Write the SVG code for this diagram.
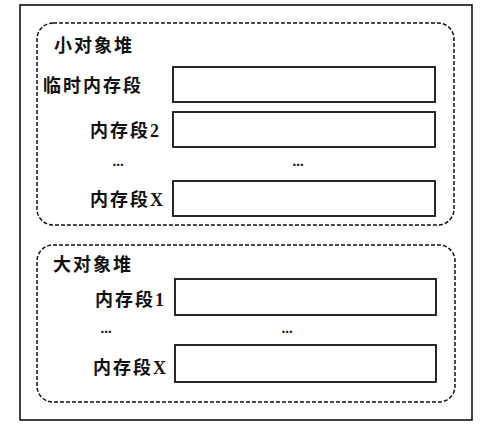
<svg xmlns="http://www.w3.org/2000/svg" width="486" height="434" viewBox="0 0 486 434">
<style>
.frame{fill:#fff;stroke:#111;stroke-width:1.6}
.heap{fill:none;stroke:#111;stroke-width:1.5;stroke-dasharray:4 2}
.seg{fill:#fff;stroke:#111;stroke-width:1.8}
.t{font-family:"Liberation Serif","Noto Sans CJK SC",serif;font-weight:bold;font-size:18px;letter-spacing:2px;fill:#111}
.d{font-family:"Liberation Serif",serif;font-weight:bold;font-size:15px;fill:#111;text-anchor:middle}
</style>
<rect x="0" y="0" width="486" height="434" fill="#fff"/>
<rect class="frame" x="20" y="5" width="452" height="415"/>
<g id="small-heap">
<rect class="heap" x="37" y="23" width="417" height="202" rx="16"/>
<text class="t" x="54" y="52">小对象堆</text>
</g>
<g id="seg-temp">
<text class="t" x="43" y="92">临时内存段</text>
<rect class="seg" x="173" y="67" width="262" height="35"/>
</g>
<g id="seg-2">
<text class="t" x="90" y="137">内存段2</text>
<rect class="seg" x="173" y="112" width="262" height="35"/>
</g>
<g id="small-dots">
<text class="d" x="118" y="166">...</text>
<text class="d" x="298" y="166">...</text>
</g>
<g id="seg-x-small">
<text class="t" x="90" y="206">内存段X</text>
<rect class="seg" x="173" y="181" width="262" height="35"/>
</g>
<g id="large-heap">
<rect class="heap" x="37" y="245" width="418" height="157" rx="16"/>
<text class="t" x="53" y="271">大对象堆</text>
</g>
<g id="seg-1">
<text class="t" x="95" y="306">内存段1</text>
<rect class="seg" x="175" y="279" width="261" height="36"/>
</g>
<g id="large-dots">
<text class="d" x="106" y="333">...</text>
<text class="d" x="287" y="333">...</text>
</g>
<g id="seg-x-large">
<text class="t" x="93" y="374">内存段X</text>
<rect class="seg" x="175" y="345" width="261" height="37"/>
</g>
<g id="connectors"></g>
</svg>
